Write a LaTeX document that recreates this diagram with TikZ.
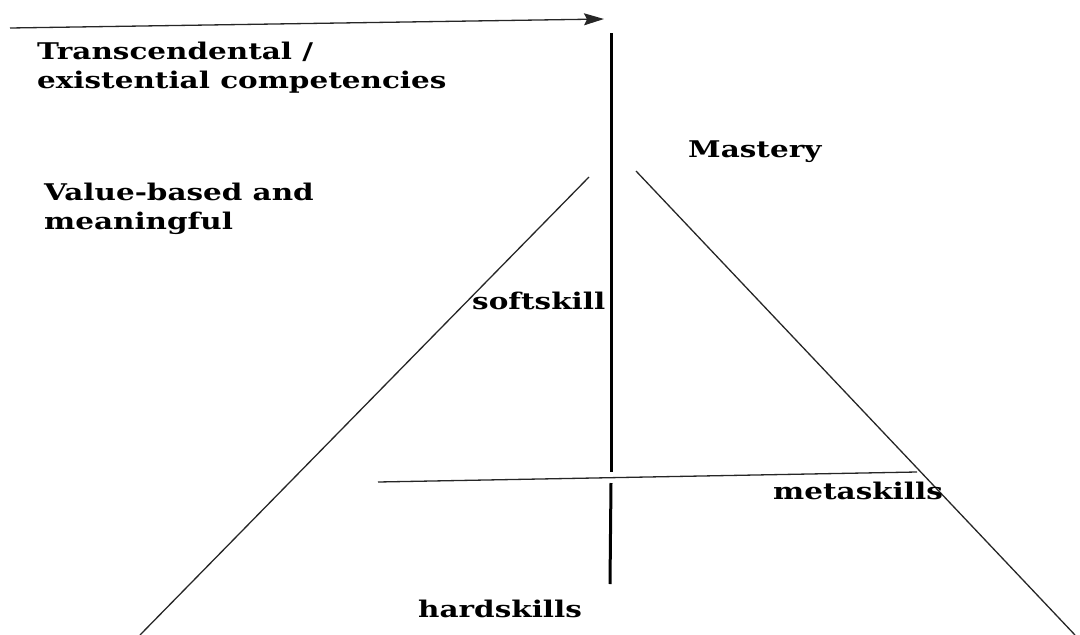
\documentclass[tikz,border=0pt]{standalone}
\usepackage{fontspec}
\usepackage{graphicx}
\setmainfont{DejaVu Serif}
\usetikzlibrary{arrows.meta}
\newcommand{\wide}[1]{\scalebox{1.28}[1]{#1}}
\begin{document}
\begin{tikzpicture}[x=1pt,y=-1pt,
  lbl/.style={anchor=base west, inner sep=0pt, font=\bfseries\fontsize{23}{29}\selectfont, align=left},
  thinline/.style={line width=1.3pt, draw=black!85},
  axisline/.style={line width=3pt, draw=black}]
\useasboundingbox (0,0) rectangle (1080,635);
% arrow at top
\coordinate (aS) at (10,28);
\coordinate (aE) at (604,19);
\draw[thinline, -{Stealth[length=20pt,width=12pt,inset=3pt]}] (aS) -- (aE);
% vertical axis with a gap at the crossing
\coordinate (vT) at (611,33);
\coordinate (vG1) at (611,472);
\coordinate (vG2) at (611,483);
\coordinate (vB) at (610,584);
\draw[axisline] (vT) -- (vG1);
\draw[axisline] (vG2) -- (vB);
% horizontal line
\coordinate (hL) at (378,482);
\coordinate (hR) at (917,472);
\draw[thinline] (hL) -- (hR);
% diagonals
\coordinate (lT) at (589,177);
\coordinate (lB) at (140,635);
\coordinate (rT) at (636,171);
\coordinate (rB) at (1075,635);
\draw[thinline] (lT) -- (lB);
\draw[thinline] (rT) -- (rB);
% labels
\node[lbl] (trans) at (37,88) {\wide{Transcendental /}\\\wide{existential competencies}};
\node[lbl] (value) at (44,229) {\wide{Value-based and}\\\wide{meaningful}};
\node[lbl] (mast) at (688,157) {\wide{Mastery}};
\node[lbl] (soft) at (472,309) {\wide{softskill}};
\node[lbl] (meta) at (773,499) {\wide{metaskills}};
\node[lbl] (hard) at (418,617) {\wide{hardskills}};
\end{tikzpicture}
\end{document}
